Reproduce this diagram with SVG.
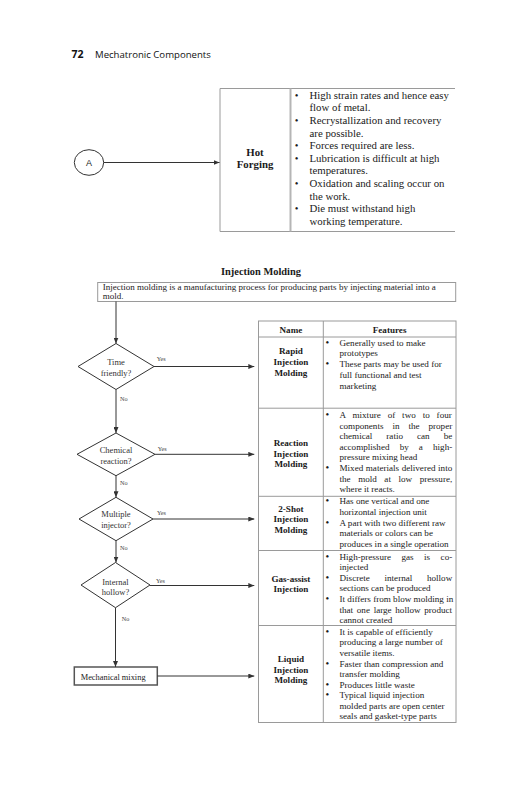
<svg xmlns="http://www.w3.org/2000/svg" width="531" height="800" viewBox="0 0 531 800">
<defs>
<marker id="arr" viewBox="0 0 6 5" refX="6" refY="2.5" markerWidth="6" markerHeight="5" markerUnits="userSpaceOnUse" orient="auto">
<path d="M0,0 L6,2.5 L0,5 z" fill="#333"/>
</marker>
<style>
.hd{font-family:"Open Sans","DejaVu Sans",sans-serif;fill:#111}
.s{font-family:"Liberation Serif","Times New Roman",serif;fill:#1a1a1a}
.t1{font-size:10.8px}
.t2{font-size:9.1px}
.b{font-weight:bold}
.m{text-anchor:middle}
.bu{text-anchor:middle;font-size:10.5px}
.dt{font-size:8.5px;fill:#333}
.yn{font-size:6.2px;fill:#444}
.tl{stroke:#9a9a9a;stroke-width:1;fill:none}
.fl{stroke:#333;stroke-width:1;fill:none}
.dm{stroke:#333;stroke-width:1;fill:#fff}
</style>
</defs>
<rect width="531" height="800" fill="#fff"/>

<g id="header">
<text class="hd" x="71.5" y="58.2" font-size="10.5" font-weight="bold">72</text>
<text class="hd" x="95" y="58.2" font-size="9.6">Mechatronic Components</text>
</g>

<g id="node-A">
<ellipse cx="89" cy="162.5" rx="14.7" ry="12.8" fill="#fff" stroke="#333" stroke-width="1"/>
<text x="89" y="165.8" font-family="Liberation Sans, Arial, sans-serif" font-size="9" text-anchor="middle" fill="#222">A</text>
</g>

<g id="hot-forging-table">
<line class="tl" x1="220" y1="88.5" x2="455" y2="88.5"/>
<line class="tl" x1="220" y1="231.5" x2="455" y2="231.5"/>
<line class="tl" x1="220" y1="88.5" x2="220" y2="231.5"/>
<line x1="290.5" y1="88.5" x2="290.5" y2="231.5" stroke="#b5b5b5" stroke-width="2"/>
<text class="s b m" x="255" y="155.5" font-size="10.8">Hot</text>
<text class="s b m" x="255" y="168" font-size="10.8">Forging</text>
<g class="s t1">
<text class="bu" x="296.5" y="98.8" font-size="12">•</text>
<text x="309.5" y="98.8">High strain rates and hence easy</text>
<text x="309.5" y="111.4">flow of metal.</text>
<text class="bu" x="296.5" y="124" font-size="12">•</text>
<text x="309.5" y="124">Recrystallization and recovery</text>
<text x="309.5" y="136.6">are possible.</text>
<text class="bu" x="296.5" y="149.2" font-size="12">•</text>
<text x="309.5" y="149.2">Forces required are less.</text>
<text class="bu" x="296.5" y="161.8" font-size="12">•</text>
<text x="309.5" y="161.8">Lubrication is difficult at high</text>
<text x="309.5" y="174.4">temperatures.</text>
<text class="bu" x="296.5" y="187" font-size="12">•</text>
<text x="309.5" y="187">Oxidation and scaling occur on</text>
<text x="309.5" y="199.6">the work.</text>
<text class="bu" x="296.5" y="212.2" font-size="12">•</text>
<text x="309.5" y="212.2">Die must withstand high</text>
<text x="309.5" y="224.8">working temperature.</text>
</g>
</g>

<g id="title">
<text class="s b m" x="261" y="275.3" font-size="10.4">Injection Molding</text>
</g>

<g id="description">
<rect x="97.7" y="282.5" width="358" height="19" fill="#fff" stroke="#9a9a9a" stroke-width="1"/>
<text class="s" x="102.7" y="290" font-size="9">Injection molding is a manufacturing process for producing parts by injecting material into a</text>
<text class="s" x="102.7" y="299.3" font-size="9">mold.</text>
</g>

<g id="d-time">
<polygon class="dm" points="116,343.5 154,366.5 116,389.5 78,366.5"/>
<text class="s dt m" x="116" y="365">Time</text>
<text class="s dt m" x="116" y="375.5">friendly?</text>
</g>

<g id="d-chemical">
<polygon class="dm" points="116,433 155,454.3 116,475.7 77,454.3"/>
<text class="s dt m" x="116" y="453">Chemical</text>
<text class="s dt m" x="116" y="463.5">reaction?</text>
</g>

<g id="d-multiple">
<polygon class="dm" points="116,497.3 153,519 116,540.7 79,519"/>
<text class="s dt m" x="116" y="517.3">Multiple</text>
<text class="s dt m" x="116" y="528">injector?</text>
</g>

<g id="d-internal">
<polygon class="dm" points="115.5,562.5 150,585 115.5,607.7 81,585"/>
<text class="s dt m" x="115.5" y="584.5">Internal</text>
<text class="s dt m" x="115.5" y="595.2">hollow?</text>
</g>

<g id="mechanical-mixing">
<rect x="74.3" y="667" width="83" height="18" fill="#fff" stroke="#555" stroke-width="1.5"/>
<text class="s" x="80.7" y="679.7" font-size="8.4">Mechanical mixing</text>
</g>

<g id="connectors">
<line class="fl" x1="103.7" y1="162.5" x2="219.5" y2="162.5" marker-end="url(#arr)"/>
<line class="fl" x1="116" y1="301.5" x2="116" y2="343.5" marker-end="url(#arr)"/>
<line class="fl" x1="154" y1="366.5" x2="254.3" y2="366.5" marker-end="url(#arr)"/>
<line class="fl" x1="116" y1="389.5" x2="116" y2="433" marker-end="url(#arr)"/>
<line class="fl" x1="155" y1="454.3" x2="254.3" y2="454.3" marker-end="url(#arr)"/>
<line class="fl" x1="116" y1="475.7" x2="116" y2="497.3" marker-end="url(#arr)"/>
<line class="fl" x1="153" y1="519" x2="254.3" y2="519" marker-end="url(#arr)"/>
<line class="fl" x1="116" y1="540.7" x2="116" y2="562.5" marker-end="url(#arr)"/>
<line class="fl" x1="150" y1="585.5" x2="254.3" y2="585.5" marker-end="url(#arr)"/>
<line class="fl" x1="115.5" y1="607.7" x2="115.5" y2="667" marker-end="url(#arr)"/>
<line class="fl" x1="157.3" y1="676" x2="254.3" y2="676" marker-end="url(#arr)"/>
<g class="s yn">
<text x="156.7" y="361.3">Yes</text>
<text x="120" y="401">No</text>
<text x="157.7" y="451">Yes</text>
<text x="120" y="485.3">No</text>
<text x="157" y="515">Yes</text>
<text x="120" y="550">No</text>
<text x="156" y="582.7">Yes</text>
<text x="121.7" y="621">No</text>
</g>
</g>

<g id="injection-table">
<g class="tl">
<rect x="258.5" y="321" width="197.5" height="401.5"/>
<line x1="323.3" y1="321" x2="323.3" y2="722.5"/>
<line x1="258.5" y1="337" x2="456" y2="337"/>
<line x1="258.5" y1="408.2" x2="456" y2="408.2"/>
<line x1="258.5" y1="496.3" x2="456" y2="496.3"/>
<line x1="258.5" y1="550.5" x2="456" y2="550.5"/>
<line x1="258.5" y1="625.5" x2="456" y2="625.5"/>
</g>
<text class="s t2 b m" x="290.9" y="332.5">Name</text>
<text class="s t2 b m" x="389.6" y="332.5">Features</text>

<g id="row-rapid" class="s t2">
<text class="b m" x="290.9" y="354.3">Rapid</text>
<text class="b m" x="290.9" y="365">Injection</text>
<text class="b m" x="290.9" y="375.7">Molding</text>
<text class="bu" x="327.3" y="345.7">•</text>
<text x="339.5" y="345.7">Generally used to make</text>
<text x="339.5" y="356.4">prototypes</text>
<text class="bu" x="327.3" y="367.1">•</text>
<text x="339.5" y="367.1">These parts may be used for</text>
<text x="339.5" y="377.8">full functional and test</text>
<text x="339.5" y="388.5">marketing</text>
</g>

<g id="row-reaction" class="s t2">
<text class="b m" x="290.9" y="446.3">Reaction</text>
<text class="b m" x="290.9" y="456.8">Injection</text>
<text class="b m" x="290.9" y="467.3">Molding</text>
<text class="bu" x="327.3" y="418">•</text>
<text x="339.5" y="418" word-spacing="4.62">A mixture of two to four</text>
<text x="339.5" y="428.6" word-spacing="6.68">components in the proper</text>
<text x="339.5" y="439.2" word-spacing="11.74">chemical ratio can be</text>
<text x="339.5" y="449.8" word-spacing="7.86">accomplished by a high-</text>
<text x="339.5" y="460.4">pressure mixing head</text>
<text class="bu" x="327.3" y="471">•</text>
<text x="339.5" y="471" word-spacing="0.28">Mixed materials delivered into</text>
<text x="339.5" y="481.6" word-spacing="5.26">the mold at low pressure,</text>
<text x="339.5" y="492.2">where it reacts.</text>
</g>

<g id="row-2shot" class="s t2">
<text class="b m" x="290.9" y="511.5">2-Shot</text>
<text class="b m" x="290.9" y="522.2">Injection</text>
<text class="b m" x="290.9" y="532.9">Molding</text>
<text class="bu" x="327.3" y="504.2">•</text>
<text x="339.5" y="504.2">Has one vertical and one</text>
<text x="339.5" y="514.9">horizontal injection unit</text>
<text class="bu" x="327.3" y="525.6">•</text>
<text x="339.5" y="525.6">A part with two different raw</text>
<text x="339.5" y="536.3">materials or colors can be</text>
<text x="339.5" y="547">produces in a single operation</text>
</g>

<g id="row-gas" class="s t2">
<text class="b m" x="290.9" y="581.5">Gas-assist</text>
<text class="b m" x="290.9" y="591.7">Injection</text>
<text class="bu" x="327.3" y="559.5">•</text>
<text x="339.5" y="559.5" word-spacing="8.2">High-pressure gas is co-</text>
<text x="339.5" y="570.15">injected</text>
<text class="bu" x="327.3" y="580.8">•</text>
<text x="339.5" y="580.8" word-spacing="12.43">Discrete internal hollow</text>
<text x="339.5" y="591.45">sections can be produced</text>
<text class="bu" x="327.3" y="602.1">•</text>
<text x="339.5" y="602.1">It differs from blow molding in</text>
<text x="339.5" y="612.75" word-spacing="1.41">that one large hollow product</text>
<text x="339.5" y="623.4">cannot created</text>
</g>

<g id="row-liquid" class="s t2">
<text class="b m" x="290.9" y="662.2">Liquid</text>
<text class="b m" x="290.9" y="672.7">Injection</text>
<text class="b m" x="290.9" y="683.2">Molding</text>
<text class="bu" x="327.3" y="634.9">•</text>
<text x="339.5" y="634.9">It is capable of efficiently</text>
<text x="339.5" y="645.45">producing a large number of</text>
<text x="339.5" y="656">versatile items.</text>
<text class="bu" x="327.3" y="666.55">•</text>
<text x="339.5" y="666.55">Faster than compression and</text>
<text x="339.5" y="677.1">transfer molding</text>
<text class="bu" x="327.3" y="687.65">•</text>
<text x="339.5" y="687.65">Produces little waste</text>
<text class="bu" x="327.3" y="698.2">•</text>
<text x="339.5" y="698.2">Typical liquid injection</text>
<text x="339.5" y="708.75">molded parts are open center</text>
<text x="339.5" y="719.3">seals and gasket-type parts</text>
</g>
</g>
</svg>
